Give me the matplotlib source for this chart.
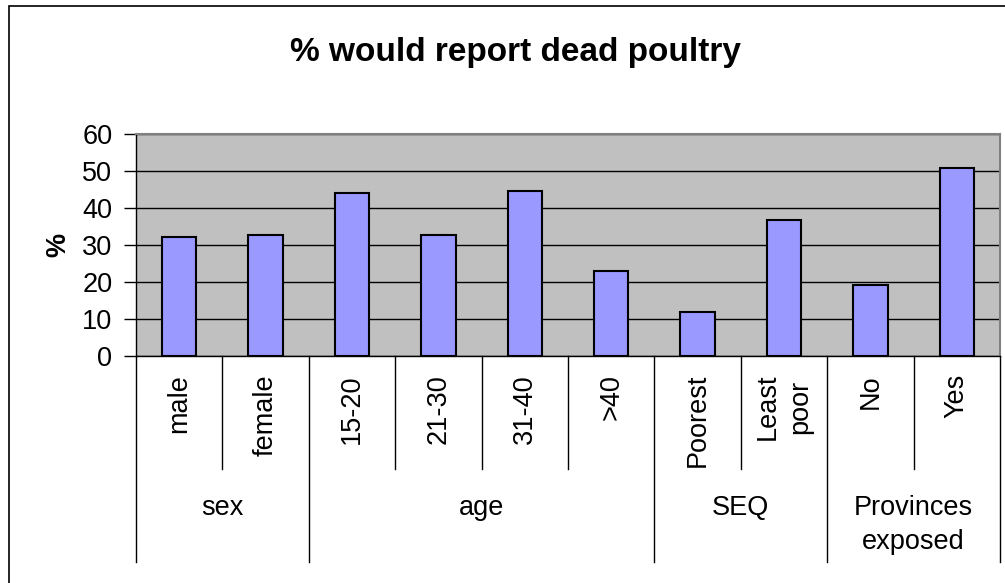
import matplotlib

matplotlib.use("Agg")

import matplotlib.pyplot as plt
import numpy as np
from matplotlib.patches import Rectangle

plt.rcParams["font.family"] = ["Liberation Sans", "DejaVu Sans"]

# % of respondents who would report dead poultry, by subgroup
categories = ["male", "female", "15-20", "21-30", "31-40", ">40",
              "Poorest", "Least\npoor", "No", "Yes"]
values = [32.2, 32.8, 44.1, 32.7, 44.7, 23.1, 11.8, 36.8, 19.2, 50.9]
groups = ["sex", "age", "SEQ", "Provinces\nexposed"]
group_sizes = [2, 4, 2, 2]
yticks = [0, 10, 20, 30, 40, 50, 60]

W, H = 1005, 583
FS = 19.5
fig = plt.figure(figsize=(W / 100, H / 100), dpi=100)

# plot area in pixel coordinates
left, right, top, bottom = 136, 1000, 134, 356
ax = fig.add_axes([left / W, 1 - bottom / H, (right - left) / W, (bottom - top) / H])
ax.set_facecolor("#C0C0C0")

x = np.arange(len(categories))
ax.bar(x, values, width=0.4, color="#9999FF", edgecolor="black", linewidth=1.5, zorder=3)

ax.set_xlim(-0.5, len(categories) - 0.5)
ax.set_ylim(0, 60)
ax.set_yticks(yticks)
ax.tick_params(axis="y", direction="out", length=9, width=1, labelsize=FS, pad=8)
ax.set_xticks([])
ax.yaxis.grid(True, color="black", linewidth=1, zorder=1)
ax.set_axisbelow(True)

for side in ("top", "right"):
    ax.spines[side].set_color("#808080")
    ax.spines[side].set_linewidth(1.5)
for side in ("left", "bottom"):
    ax.spines[side].set_color("black")
    ax.spines[side].set_linewidth(1)

ax.set_ylabel("%", fontsize=FS, fontweight="bold", labelpad=8)

# category dividers and rotated labels below the axis
trans = ax.get_xaxis_transform()
span = bottom - top
short_y = -(469 - bottom) / span
long_y = -(562 - bottom) / span
bounds = np.concatenate([[0], np.cumsum(group_sizes)])
for i in range(len(categories) + 1):
    y_end = long_y if i in bounds else short_y
    ax.plot([i - 0.5, i - 0.5], [0, y_end], color="black", linewidth=1,
            transform=trans, clip_on=False)

for i, name in enumerate(categories):
    ax.text(i, -(374 - bottom) / span, name, rotation=90,
            ha="center", va="top", multialignment="center",
            fontsize=FS, linespacing=1.35, transform=trans)

for g, name in enumerate(groups):
    mid = (bounds[g] + bounds[g + 1]) / 2 - 0.5
    ax.text(mid, -(495 - bottom) / span, name, ha="center", va="top",
            fontsize=FS, linespacing=1.4, transform=trans)

fig.text(516 / W, 1 - 52 / H, "% would report dead poultry", ha="center", va="center",
         fontsize=24, fontweight="bold")

# outer chart frame
fig.patches.append(Rectangle((9 / W, -0.01), 1.02 - 9 / W, 1 - 6 / H + 0.01,
                             transform=fig.transFigure, fill=False,
                             edgecolor="black", linewidth=1.2))

fig.savefig("out.png", dpi=100)
